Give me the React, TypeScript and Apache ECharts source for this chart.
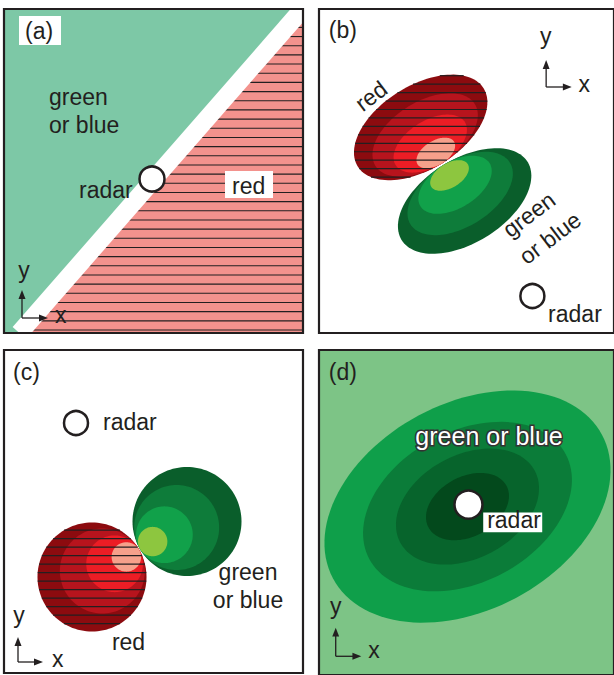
import React, { useEffect, useRef } from "react";
import * as echarts from "echarts";

const FONT = '"Liberation Sans", Arial, Helvetica, sans-serif';
const INK = "#231F20";
const FS = 23;

// ---- panel frames (page px) ----
const panelLeft = [4, 319, 4, 319];
const panelTop = [9, 9, 350, 350];
const panelWidth = [299, 300, 299, 300];
const panelHeight = [324, 324, 323, 330];
const panelLabels = ["(a)", "(b)", "(c)", "(d)"];
// panel-local coordinates: x from left edge, y up from bottom edge; [left, baseline]
const panelLabelAt = [[21, 294], [10, 295], [9, 293], [10, 300]];

// ---- little x/y axis glyphs ----
const axisGlyphOrigin = [[18, 15], [231, 246], [14, 11], [17, 19]];
const axisGlyphLength = [[26, 28], [26, 27], [25, 25], [26, 29]]; // [x length, y length]
const axisGlyphYLabel = [[20, 55], [230.5, 289], [15, 50], [17, 62]]; // [centre x, baseline]
const axisGlyphXLabel = [[51, 10], [264, 241], [48, 6], [50, 17]]; // [left x, baseline]

// ---- panel (a): half-planes ----
const aBoundary = [[18, 3], [296, 321]];
const aColors = ["#7DC8A6", "#F3928D"]; // green side, red side
const aRadar = [148, 154];
const aGreenText = ["green", "or blue"];
const aGreenTextAt = [[45, 228], [45, 200]];
const aRadarTextAt = [75, 135];
const aRedBox = [221, 135, 48, 27]; // x, y(bottom), w, h
const aRedTextAt = [228, 139];
const aLabelBox = [15, 288, 42, 29];

// ---- panel (b): tilted ellipses ----
const redShades = ["#8C0B0F", "#B7141D", "#EC1D25", "#F6A08B"];
const greenShades = ["#0A5E2B", "#0E7C3A", "#11A14A", "#8DC63F"];
const bBlobCenter = [[103.4, 205.6], [148.1, 132.0]]; // red, green
const bBlobAxes = [[75, 42], [75, 42]];
const bBlobAngle = [31, 31];
const bBlobTouchDir = [-59, 121];
const bLayerScale = [1, 0.79, 0.55, 0.29];
const bHatchTop = 257.3;
const bRedText = [53, 237];
const bGreenText = [[213.4, 118.5], [235, 95]];
const bTextAngle = 37;
const bRadar = [217, 37];
const bRadarTextAt = [233, 11];

// ---- panel (c): round blobs ----
const cBlobCenter = [[88, 96], [183, 151.5]]; // red, green
const cBlobRadius = [54.5, 54.5];
const cBlobTouchDir = [30.3, 210.3];
const cLayerScale = [1, 0.78, 0.52, 0.27];
const cHatchTop = 151.3;
const cRadar = [72, 250];
const cRadarTextAt = [99, 243];
const cGreenTextAt = [[244, 93], [244, 65]];
const cRedTextAt = [124.5, 23];

// ---- panel (d): nested ellipses around the radar ----
const dBackground = "#7DC486";
const dShades = ["#0F9F4A", "#0B7C39", "#07642C", "#03491C"];
const dCenter = [151, 171];
const dAxes = [155, 105];
const dAngle = 28;
const dLayerScale = [1, 0.73, 0.5, 0.29];
const dRadar = [152, 173];
const dGreenTextAt = [98, 234];
const dRadarBox = [167, 145, 60, 20];
const dRadarTextAt = [171, 149];

const rad = (d: number) => (d * Math.PI) / 180;

function makeRender(panel: number) {
  return (_params: any, api: any) => {
    const P = (x: number, y: number) => api.coord([x, y]);
    const W = panelWidth[panel];
    const H = panelHeight[panel];
    const ch: any[] = [];

    const poly = (pts: number[][], fill: string) =>
      ch.push({ type: "polygon", shape: { points: pts.map((p) => P(p[0], p[1])) }, style: { fill } });
    const seg = (x1: number, y1: number, x2: number, y2: number, stroke: string, lw: number) => {
      const a = P(x1, y1);
      const b = P(x2, y2);
      ch.push({ type: "line", shape: { x1: a[0], y1: a[1], x2: b[0], y2: b[1] }, style: { stroke, lineWidth: lw, lineCap: "butt" } });
    };
    const rect = (x: number, y: number, w: number, h: number, style: any) => {
      const tl = P(x, y + h);
      const br = P(x + w, y);
      ch.push({ type: "rect", shape: { x: tl[0], y: tl[1], width: br[0] - tl[0], height: br[1] - tl[1] }, style });
    };
    const text = (s: string, x: number, base: number, align = "left", extra: any = {}) => {
      const size = extra.size ?? FS;
      const p = P(x, base + 0.3465 * size);
      ch.push({
        type: "text",
        x: p[0],
        y: p[1],
        style: {
          text: s,
          fill: extra.fill ?? INK,
          stroke: extra.stroke,
          lineWidth: extra.lineWidth ?? 0,
          strokeFirst: true,
          fontSize: size,
          fontFamily: FONT,
          align,
          verticalAlign: "middle",
          textAlign: align,
          textVerticalAlign: "middle",
        },
      });
    };
    const rtext = (s: string, cx: number, cy: number, angle: number) => {
      const p = P(cx, cy);
      ch.push({
        type: "text",
        x: p[0],
        y: p[1],
        rotation: rad(angle),
        style: { text: s, fill: INK, fontSize: FS, fontFamily: FONT, align: "center", verticalAlign: "middle", textAlign: "center", textVerticalAlign: "middle" },
      });
    };
    const radar = (c: number[], r: number, lw: number) => {
      const p = P(c[0], c[1]);
      ch.push({ type: "circle", shape: { cx: p[0], cy: p[1], r }, style: { fill: "#ffffff", stroke: INK, lineWidth: lw } });
    };
    const ellipsePts = (cx: number, cy: number, a: number, b: number, ang: number) => {
      const pts: number[][] = [];
      const c = Math.cos(rad(ang));
      const s = Math.sin(rad(ang));
      for (let i = 0; i < 120; i++) {
        const t = (i / 120) * Math.PI * 2;
        const u = a * Math.cos(t);
        const v = b * Math.sin(t);
        pts.push([cx + u * c - v * s, cy + u * s + v * c]);
      }
      return pts;
    };
    // nested layers, all touching the outer rim at the point facing the other blob
    const blob = (C: number[], a: number, b: number, ang: number, dir: number, scales: number[], colors: string[]) => {
      const phi = rad(dir - ang);
      const r = 1 / Math.sqrt((Math.cos(phi) / a) ** 2 + (Math.sin(phi) / b) ** 2);
      const T = [C[0] + r * Math.cos(rad(dir)), C[1] + r * Math.sin(rad(dir))];
      scales.forEach((s, i) => {
        const cx = T[0] + s * (C[0] - T[0]);
        const cy = T[1] + s * (C[1] - T[1]);
        poly(ellipsePts(cx, cy, a * s, b * s, ang), colors[i]);
      });
    };
    // horizontal hatching clipped to an ellipse
    const hatch = (C: number[], a: number, b: number, ang: number, top: number, step: number) => {
      const c = Math.cos(rad(ang));
      const s = Math.sin(rad(ang));
      const A = (c * c) / (a * a) + (s * s) / (b * b);
      for (let y = top; y > C[1] - Math.max(a, b); y -= step) {
        const dy = y - C[1];
        const B = 2 * dy * (c * s / (a * a) - (s * c) / (b * b));
        const Cc = dy * dy * ((s * s) / (a * a) + (c * c) / (b * b)) - 1;
        const disc = B * B - 4 * A * Cc;
        if (disc <= 0) continue;
        const x1 = (-B - Math.sqrt(disc)) / (2 * A);
        const x2 = (-B + Math.sqrt(disc)) / (2 * A);
        seg(C[0] + x1, y, C[0] + x2, y, INK, 1.2);
      }
    };
    const axisGlyph = () => {
      const [ox, oy] = axisGlyphOrigin[panel];
      const [lx, ly] = axisGlyphLength[panel];
      const head = 9;
      const half = 3.5;
      seg(ox, oy, ox, oy + ly - head + 1, INK, 1.3);
      seg(ox, oy, ox + lx - head + 1, oy, INK, 1.3);
      poly([[ox, oy + ly], [ox - half, oy + ly - head], [ox + half, oy + ly - head]], INK);
      poly([[ox + lx, oy], [ox + lx - head, oy + half], [ox + lx - head, oy - half]], INK);
      text("y", axisGlyphYLabel[panel][0], axisGlyphYLabel[panel][1], "center");
      text("x", axisGlyphXLabel[panel][0], axisGlyphXLabel[panel][1], "left");
    };

    if (panel === 0) {
      const [[x0, y0], [x1, y1]] = aBoundary;
      const lineX = (y: number) => x0 + ((y - y0) * (x1 - x0)) / (y1 - y0);
      rect(0, 0, W, H, { fill: aColors[0] });
      poly([[lineX(0), 0], [lineX(H), H], [W, H], [W, 0]], aColors[1]);
      for (let y = 3; y < H; y += 9.17) seg(lineX(y), y, W, y, INK, 1.1);
      seg(lineX(0), 0, lineX(H), H, "#ffffff", 18);
      rect(aLabelBox[0], aLabelBox[1], aLabelBox[2], aLabelBox[3], { fill: "#ffffff" });
      rect(aRedBox[0], aRedBox[1], aRedBox[2], aRedBox[3], { fill: "#ffffff" });
      text("red", aRedTextAt[0], aRedTextAt[1]);
      aGreenText.forEach((s, i) => text(s, aGreenTextAt[i][0], aGreenTextAt[i][1]));
      text("radar", aRadarTextAt[0], aRadarTextAt[1]);
      radar(aRadar, 12.5, 2.5);
    } else if (panel === 1) {
      blob(bBlobCenter[0], bBlobAxes[0][0], bBlobAxes[0][1], bBlobAngle[0], bBlobTouchDir[0], bLayerScale, redShades);
      hatch(bBlobCenter[0], bBlobAxes[0][0], bBlobAxes[0][1], bBlobAngle[0], bHatchTop, 8.45);
      blob(bBlobCenter[1], bBlobAxes[1][0], bBlobAxes[1][1], bBlobAngle[1], bBlobTouchDir[1], bLayerScale, greenShades);
      rtext("red", bRedText[0], bRedText[1], bTextAngle);
      rtext("green", bGreenText[0][0], bGreenText[0][1], bTextAngle);
      rtext("or blue", bGreenText[1][0], bGreenText[1][1], bTextAngle);
      radar(bRadar, 12, 2.5);
      text("radar", bRadarTextAt[0], bRadarTextAt[1]);
    } else if (panel === 2) {
      blob(cBlobCenter[0], cBlobRadius[0], cBlobRadius[0], 0, cBlobTouchDir[0], cLayerScale, redShades);
      hatch(cBlobCenter[0], cBlobRadius[0], cBlobRadius[0], 0, cHatchTop, 8.5);
      blob(cBlobCenter[1], cBlobRadius[1], cBlobRadius[1], 0, cBlobTouchDir[1], cLayerScale, greenShades);
      radar(cRadar, 12, 2.5);
      text("radar", cRadarTextAt[0], cRadarTextAt[1]);
      text("green", cGreenTextAt[0][0], cGreenTextAt[0][1], "center");
      text("or blue", cGreenTextAt[1][0], cGreenTextAt[1][1], "center");
      text("red", cRedTextAt[0], cRedTextAt[1], "center");
    } else {
      rect(0, 0, W, H, { fill: dBackground });
      dLayerScale.forEach((s, i) => poly(ellipsePts(dCenter[0], dCenter[1], dAxes[0] * s, dAxes[1] * s, dAngle), dShades[i]));
      text("green or blue", dGreenTextAt[0], dGreenTextAt[1], "left", { fill: "#ffffff", stroke: "#333333", lineWidth: 3, size: 25 });
      rect(dRadarBox[0], dRadarBox[1], dRadarBox[2], dRadarBox[3], { fill: "#ffffff" });
      text("radar", dRadarTextAt[0], dRadarTextAt[1]);
      radar(dRadar, 14, 2.5);
    }
    axisGlyph();
    text(panelLabels[panel], panelLabelAt[panel][0], panelLabelAt[panel][1]);
    rect(0, 0, W, H, { fill: "none", stroke: INK, lineWidth: 2.2 });
    return { type: "group", children: ch };
  };
}

export default function App() {
  const ref = useRef<HTMLDivElement>(null);
  useEffect(() => {
    const chart = echarts.init(ref.current!, null, { renderer: "svg" });
    const idx = [0, 1, 2, 3];
    chart.setOption({
      animation: false,
      backgroundColor: "#ffffff",
      grid: idx.map((i) => ({ left: panelLeft[i], top: panelTop[i], width: panelWidth[i], height: panelHeight[i], containLabel: false })),
      xAxis: idx.map((i) => ({ type: "value", gridIndex: i, min: 0, max: panelWidth[i], show: false })),
      yAxis: idx.map((i) => ({ type: "value", gridIndex: i, min: 0, max: panelHeight[i], show: false })),
      series: idx.map((i) => ({
        type: "custom",
        xAxisIndex: i,
        yAxisIndex: i,
        silent: true,
        data: [[0, 0]],
        renderItem: makeRender(i),
      })),
    });
    return () => chart.dispose();
  }, []);
  return <div ref={ref} style={{ position: "fixed", left: 0, top: 0, width: 614, height: 675 }} />;
}
